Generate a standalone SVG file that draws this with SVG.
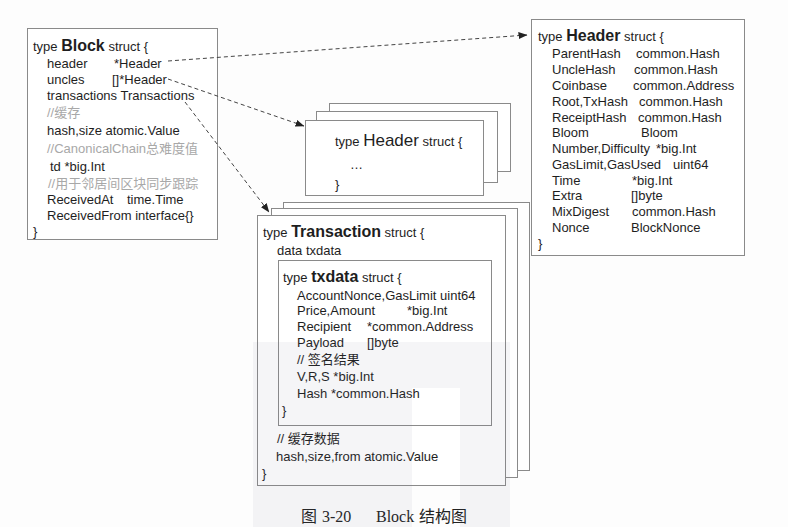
<svg xmlns="http://www.w3.org/2000/svg" width="788" height="527" viewBox="0 0 788 527">
<defs>
<style>
text{font-family:"Liberation Sans","Noto Sans CJK SC",sans-serif;font-size:13px;fill:#1e1e1e}
.big{font-size:16px;font-weight:bold}
.mid{font-size:17px}
.cm{fill:#a8a8a8}
.box{fill:#fff;stroke:#8a8a8a;stroke-width:1}
.cap{font-family:"Liberation Serif","Noto Sans CJK SC",serif;font-size:16px;fill:#222}
.con{fill:none;stroke:#444;stroke-width:1;stroke-dasharray:4 3}
</style>
<marker id="ah" markerWidth="9" markerHeight="7" refX="8.5" refY="3.5" orient="auto" markerUnits="userSpaceOnUse">
<path d="M0,0 L9,3.5 L0,7 Z" fill="#222"/>
</marker>
</defs>
<rect width="788" height="527" fill="#fdfdfd"/>

<g id="block">
<rect class="box" x="27.5" y="28.5" width="190" height="211"/>
<text x="33" y="51">type <tspan class="big">Block</tspan> struct {</text>
<text x="47" y="68">header</text><text x="114" y="68">*Header</text>
<text x="47" y="84">uncles</text><text x="112" y="84">[]*Header</text>
<text x="47" y="100">transactions Transactions</text>
<text x="47" y="117" class="cm">//缓存</text>
<text x="47" y="135">hash,size atomic.Value</text>
<text x="47" y="153" class="cm">//CanonicalChain总难度值</text>
<text x="50" y="171">td *big.Int</text>
<text x="48" y="188" class="cm">//用于邻居间区块同步跟踪</text>
<text x="47" y="204">ReceivedAt</text><text x="127" y="204">time.Time</text>
<text x="47" y="220">ReceivedFrom interface{}</text>
<text x="33" y="236">}</text>
</g>

<g id="header">
<rect class="box" x="531.5" y="19.5" width="213" height="236"/>
<text x="538" y="41">type <tspan class="big">Header</tspan> struct {</text>
<text x="552" y="58">ParentHash</text><text x="636" y="58">common.Hash</text>
<text x="552" y="74">UncleHash</text><text x="634" y="74">common.Hash</text>
<text x="552" y="90">Coinbase</text><text x="633" y="90">common.Address</text>
<text x="552" y="106">Root,TxHash</text><text x="639" y="106">common.Hash</text>
<text x="552" y="122">ReceiptHash</text><text x="638" y="122">common.Hash</text>
<text x="552" y="137">Bloom</text><text x="641" y="137">Bloom</text>
<text x="552" y="153">Number,Difficulty</text><text x="656" y="153">*big.Int</text>
<text x="552" y="169">GasLimit,GasUsed</text><text x="673" y="169">uint64</text>
<text x="552" y="185">Time</text><text x="632" y="185">*big.Int</text>
<text x="552" y="200">Extra</text><text x="631" y="200">[]byte</text>
<text x="552" y="216">MixDigest</text><text x="632" y="216">common.Hash</text>
<text x="552" y="232">Nonce</text><text x="631" y="232">BlockNonce</text>
<text x="538" y="248">}</text>
</g>

<g id="header-stack">
<rect class="box" x="329.5" y="103.5" width="181" height="68"/>
<rect class="box" x="316.5" y="111.5" width="181" height="71"/>
<rect class="box" x="305.5" y="120.5" width="178" height="75"/>
<text x="335" y="146">type <tspan class="mid">Header</tspan> struct {</text>
<text x="350" y="169">…</text>
<text x="335" y="189">}</text>
</g>

<g id="transaction-stack">
<rect class="box" x="283.5" y="202.5" width="246" height="268"/>
<rect class="box" x="271.5" y="208.5" width="246" height="269"/>
<rect class="box" x="257.5" y="215.5" width="248" height="270"/>
<text x="263" y="237">type <tspan class="big">Transaction</tspan> struct {</text>
<text x="277" y="255">data txdata</text>
<g id="txdata">
<rect class="box" x="278.5" y="260.5" width="213" height="165"/>
<text x="283" y="282">type <tspan class="big">txdata</tspan> struct {</text>
<text x="297" y="300">AccountNonce,GasLimit uint64</text>
<text x="297" y="315">Price,Amount</text><text x="407" y="315">*big.Int</text>
<text x="297" y="331">Recipient</text><text x="367" y="331">*common.Address</text>
<text x="297" y="347">Payload</text><text x="367" y="347">[]byte</text>
<text x="297" y="364">// 签名结果</text>
<text x="297" y="381">V,R,S *big.Int</text>
<text x="297" y="398">Hash *common.Hash</text>
<text x="282" y="415">}</text>
</g>
<text x="277" y="443">// 缓存数据</text>
<text x="276" y="461">hash,size,from atomic.Value</text>
<text x="262" y="478">}</text>
</g>

<g id="connectors">
<path class="con" d="M168,61 L527,35" marker-end="url(#ah)"/>
<path class="con" d="M168,79 L304,126" marker-end="url(#ah)"/>
<path class="con" d="M185,102 L269,212" marker-end="url(#ah)"/>
</g>

<g id="caption">
<text class="cap" x="301" y="522">图</text>
<text class="cap" x="322" y="522">3-20</text>
<text class="cap" x="376" y="522">Block</text>
<text class="cap" x="419" y="522">结构图</text>
</g>

<path d="M253,342 H510 V527 H460 V388 H412 V527 H253 Z" fill="#6f6f8c" fill-opacity="0.07"/>
</svg>
